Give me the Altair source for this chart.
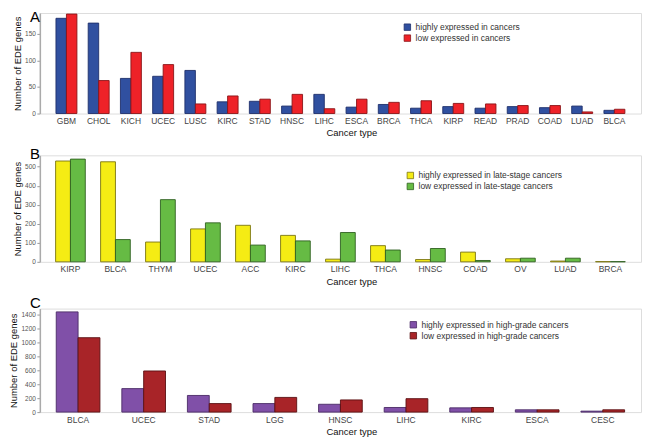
import altair as alt
import pandas as pd

# Panel A
a_types = ["GBM", "CHOL", "KICH", "UCEC", "LUSC", "KIRC", "STAD", "HNSC", "LIHC",
           "ESCA", "BRCA", "THCA", "KIRP", "READ", "PRAD", "COAD", "LUAD", "BLCA"]
a_high = [179, 170, 66, 70, 81, 22, 23, 14, 36, 12, 17, 10, 13, 10, 13, 11, 14, 6]
a_low = [187, 62, 115, 92, 18, 33, 27, 36, 9, 27, 21, 24, 19, 18, 15, 15, 3, 8]
a_series = ["highly expressed in cancers", "low expressed in cancers"]

# Panel B
b_types = ["KIRP", "BLCA", "THYM", "UCEC", "ACC", "KIRC", "LIHC", "THCA", "HNSC",
           "COAD", "OV", "LUAD", "BRCA"]
b_high = [530, 526, 104, 173, 192, 139, 14, 85, 12, 51, 16, 4, 1]
b_low = [540, 117, 327, 205, 88, 110, 154, 62, 70, 7, 19, 19, 1]
b_series = ["highly expressed in late-stage cancers", "low expressed in late-stage cancers"]

# Panel C
c_types = ["BLCA", "UCEC", "STAD", "LGG", "HNSC", "LIHC", "KIRC", "ESCA", "CESC"]
c_high = [1433, 336, 238, 122, 112, 66, 61, 33, 14]
c_low = [1064, 588, 122, 210, 174, 192, 66, 33, 33]
c_series = ["highly expressed in high-grade cancers", "low expressed in high-grade cancers"]


def make_df(types, high, low, series):
    rows = []
    for t, h, l in zip(types, high, low):
        rows.append({"type": t, "series": series[0], "value": h})
        rows.append({"type": t, "series": series[1], "value": l})
    return pd.DataFrame(rows)


W = 604
FONT = "Liberation Sans"


def panel(types, high, low, series, colors, strokes, letter, letter_y, ymax, ticks,
          height, pin, pout, legend_x, legend_y):
    df = make_df(types, high, low, series)
    bars = alt.Chart(df).mark_bar(strokeWidth=0.9).encode(
        x=alt.X("type:N", sort=types,
                scale=alt.Scale(paddingInner=pin, paddingOuter=pout),
                axis=alt.Axis(title="Cancer type", labelAngle=0, labelFontSize=8.5,
                              labelColor="#444", ticks=False, domain=False,
                              labelPadding=3, titleFontSize=9.5, titleFontWeight="normal",
                              titleColor="#111", titlePadding=3, titleX=313,
                              labelFont=FONT, titleFont=FONT)),
        xOffset=alt.XOffset("series:N", sort=series,
                            scale=alt.Scale(paddingInner=0, paddingOuter=0)),
        y=alt.Y("value:Q", scale=alt.Scale(domain=[0, ymax], nice=False),
                axis=alt.Axis(title="Number of EDE genes", values=ticks, grid=False,
                              format="d", labelPadding=1.5,
                              labelFontSize=6.5, labelColor="#555", tickColor="#999",
                              tickSize=3, domainColor="#aaa", domainWidth=1.5,
                              titleFontSize=9.5, titleFontWeight="normal",
                              titleColor="#111", titlePadding=2,
                              labelFont=FONT, titleFont=FONT)),
        color=alt.Color("series:N", sort=series,
                        scale=alt.Scale(domain=series, range=colors),
                        legend=alt.Legend(title=None, orient="none", legendX=legend_x,
                                          legendY=legend_y, symbolType="square",
                                          symbolSize=42, symbolStrokeColor="#333",
                                          symbolStrokeWidth=0.8, labelFontSize=8.5,
                                          labelColor="#333", rowPadding=0,
                                          padding=0, labelFont=FONT,
                                          symbolOpacity=1)),
        stroke=alt.Stroke("series:N", sort=series,
                          scale=alt.Scale(domain=series, range=strokes), legend=None),
    )
    lab = alt.Chart(pd.DataFrame({"t": [letter]})).mark_text(
        align="left", baseline="top", fontSize=15, font=FONT, color="#000"
    ).encode(text="t:N", x=alt.value(-10), y=alt.value(letter_y))
    return alt.layer(bars, lab).properties(width=W, height=height)


pa = panel(a_types, a_high, a_low, a_series, ["#3050A0", "#EE2228"],
           ["#1E2F6A", "#8A1418"], "A", -3, 189, [0, 50, 100, 150], 101,
           0.35, 0.5, 365, 10)
pb = panel(b_types, b_high, b_low, b_series, ["#F5EC14", "#66BB44"],
           ["#7A7410", "#2F6020"], "B", -8, 560, [0, 100, 200, 300, 400, 500], 107,
           0.34, 0.35, 368, 16)
pc = panel(c_types, c_high, c_low, c_series, ["#8050A8", "#A82428"],
           ["#4A2A66", "#5A1012"], "C", -13, 1480,
           [0, 200, 400, 600, 800, 1000, 1200, 1400],
           104, 0.334, 0.25, 371, 12)

chart = alt.vconcat(pa, pb, pc, spacing=8).resolve_scale(
    x="independent", y="independent", xOffset="independent",
    color="independent", stroke="independent"
).resolve_legend(color="independent").properties(
    padding={"left": 0, "top": 0, "right": 0, "bottom": 0}
).configure_view(stroke=None).configure(background="white")

chart.save("out.html", embed_options={"renderer": "svg", "actions": False})
